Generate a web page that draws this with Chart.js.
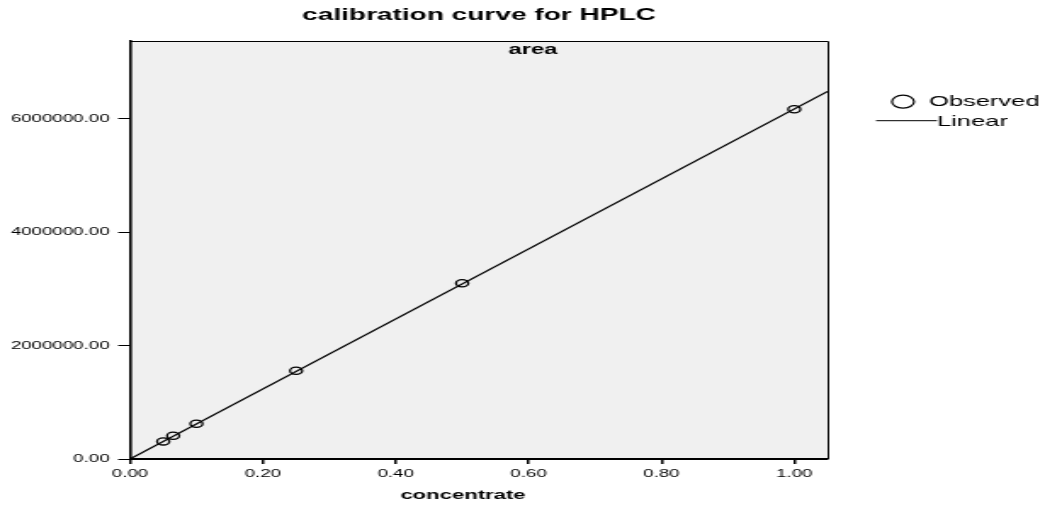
<!DOCTYPE html>
<html><head><meta charset="utf-8">
<script src="https://cdn.jsdelivr.net/npm/chart.js@4.4.0/dist/chart.umd.min.js"></script>
<style>
html,body{margin:0;padding:0;background:#fff;overflow:hidden}
#wrap{width:615px;height:508px;transform:scaleX(1.6992);transform-origin:0 0}
canvas{display:block}
</style></head><body>
<div id="wrap"><canvas id="c" width="615" height="508" style="width:615px;height:508px"></canvas></div>
<script>
// ---- data ----
const concentrations = [0.05, 0.065, 0.1, 0.25, 0.5, 1.0];
const observedArea   = [310000, 410000, 621000, 1555000, 3099000, 6167000];
const linearX        = [0, 1.05];
const linearY        = [0, 6480000];
const xTickValues    = [0, 0.2, 0.4, 0.6, 0.8, 1.0];
const yTickValues    = [0, 2000000, 4000000, 6000000];
const chartTitle     = 'calibration curve for HPLC';
const panelLabel     = 'area';
const xAxisTitle     = 'concentrate';
const legendLabels   = ['Observed', 'Linear'];

const FONT = '"Liberation Sans", Arial, sans-serif';
const SX = 1.6992;

const deco = {
  id: 'deco',
  beforeDraw(chart) {
    const {ctx, chartArea: a} = chart;
    ctx.save();
    ctx.fillStyle = '#f0f0f0';
    ctx.fillRect(a.left, a.top, a.right - a.left, a.bottom - a.top);
    ctx.restore();
  },
  afterDraw(chart) {
    const {ctx, chartArea: a} = chart;
    ctx.save();
    ctx.strokeStyle = '#000';
    ctx.lineWidth = 1;
    ctx.beginPath();
    ctx.moveTo(a.left, a.top + 0.5);
    ctx.lineTo(a.right + 0.5, a.top + 0.5);
    ctx.lineTo(a.right + 0.5, a.bottom);
    ctx.stroke();

    ctx.fillStyle = '#000';
    ctx.textAlign = 'center';
    ctx.textBaseline = 'middle';
    ctx.font = 'bold 16.5px ' + FONT;
    ctx.fillText(chartTitle, 479 / SX, 15);
    ctx.font = 'bold 14px ' + FONT;
    ctx.fillText(panelLabel, 533 / SX, 50);
    ctx.font = 'bold 13px ' + FONT;
    ctx.fillText(xAxisTitle, 463 / SX, 495);

    // legend
    ctx.lineWidth = 1.2;
    ctx.beginPath();
    ctx.arc(903 / SX, 101.7, 6.5, 0, Math.PI * 2);
    ctx.stroke();
    ctx.lineWidth = 1;
    ctx.beginPath();
    ctx.moveTo(876 / SX, 120.7);
    ctx.lineTo(937 / SX, 120.7);
    ctx.stroke();
    ctx.textAlign = 'left';
    ctx.font = '15px ' + FONT;
    ctx.fillText(legendLabels[0], 929 / SX, 102);
    ctx.fillText(legendLabels[1], 937 / SX, 122);
    ctx.restore();
  }
};

new Chart(document.getElementById('c'), {
  type: 'scatter',
  data: {
    datasets: [
      {
        label: legendLabels[0],
        data: concentrations.map((x, i) => ({x, y: observedArea[i]})),
        showLine: false,
        pointStyle: 'circle',
        pointRadius: 3.6,
        pointBorderWidth: 1.3,
        pointBorderColor: '#000',
        pointBackgroundColor: 'rgba(0,0,0,0)'
      },
      {
        label: legendLabels[1],
        data: linearX.map((x, i) => ({x, y: linearY[i]})),
        showLine: true,
        borderColor: '#000',
        borderWidth: 1.2,
        pointRadius: 0,
        fill: false
      }
    ]
  },
  options: {
    responsive: false,
    animation: false,
    devicePixelRatio: 1,
    layout: {padding: {left: 0, right: 128, top: 41, bottom: 0}},
    plugins: {legend: {display: false}, tooltip: {enabled: false}, title: {display: false}},
    scales: {
      x: {
        type: 'linear', min: 0, max: 1.05,
        afterBuildTicks: s => { s.ticks = xTickValues.map(v => ({value: v})); },
        afterFit: s => { s.height = 49; },
        grid: {display: true, drawOnChartArea: false, drawTicks: true, tickLength: 5, color: '#000', lineWidth: 1.5},
        border: {display: true, color: '#000', width: 2},
        ticks: {color: '#000', font: {family: FONT, size: 11}, padding: 3, maxRotation: 0,
                callback: v => Number(v).toFixed(2)}
      },
      y: {
        type: 'linear', min: 0, max: 7370000,
        afterBuildTicks: s => { s.ticks = yTickValues.map(v => ({value: v})); },
        afterFit: s => { s.width = 76.5; },
        grid: {display: true, drawOnChartArea: false, drawTicks: true, tickLength: 7, color: '#000', lineWidth: 1},
        border: {display: true, color: '#000', width: 1.6},
        ticks: {color: '#000', font: {family: FONT, size: 11}, padding: 5,
                callback: v => Number(v).toFixed(2)}
      }
    }
  },
  plugins: [deco]
});
</script>
</body></html>
